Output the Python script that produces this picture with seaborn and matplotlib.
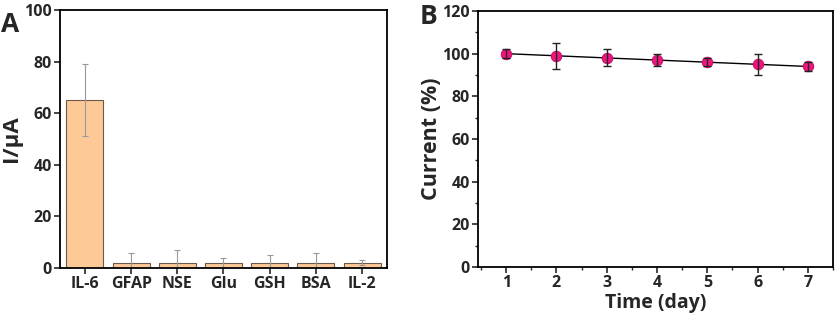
import matplotlib
matplotlib.use("Agg")
import matplotlib.pyplot as plt
from matplotlib.ticker import MultipleLocator
import seaborn as sns
import pandas as pd

# Panel A data: selectivity
proteins = ["IL-6", "GFAP", "NSE", "Glu", "GSH", "BSA", "IL-2"]
current_ua = [65, 2, 2, 2, 2, 2, 2]
current_err = [14, 4, 5, 2, 3, 4, 1]

# Panel B data: stability
days = [1, 2, 3, 4, 5, 6, 7]
current_pct = [100, 99, 98, 97, 96, 95, 94]
pct_err = [2, 6, 4, 3, 2, 5, 2]

sns.set_style("white")
plt.rcParams['font.family'] = ['Open Sans', 'DejaVu Sans']
plt.rcParams['font.weight'] = 'bold'

fig = plt.figure(figsize=(8.37, 3.18), dpi=100)
axA = fig.add_axes([60 / 837, 1 - 268 / 318, 327 / 837, 258 / 318])
axB = fig.add_axes([478 / 837, 1 - 267 / 318, 355 / 837, 256 / 318])

# Panel A
dfA = pd.DataFrame({"protein": proteins, "current": current_ua})
sns.barplot(data=dfA, x="protein", y="current", ax=axA, color="#FDC997",
            edgecolor="#6e5a4a", linewidth=0.8, width=0.8, saturation=1)
axA.errorbar(range(len(proteins)), current_ua, yerr=current_err, fmt="none",
             ecolor="#999999", elinewidth=0.8, capsize=2, capthick=0.8)
axA.set_xlim(-0.54, 6.54)
axA.set_ylim(0, 100)
axA.yaxis.set_major_locator(MultipleLocator(20))
axA.set_xlabel("")
axA.set_ylabel("I/μA", fontsize=16, fontweight="bold")
axA.yaxis.set_label_coords(-0.115, 0.5)
axA.text(-0.18, 0.995, "A", transform=axA.transAxes, fontsize=19,
         fontweight="bold", va="top", ha="left")

# Panel B
dfB = pd.DataFrame({"day": days, "current": current_pct})
sns.lineplot(data=dfB, x="day", y="current", ax=axB, color="black",
             linewidth=1.0, marker="o", markersize=7.5,
             markerfacecolor="#F0157E", markeredgecolor="#C8106A")
axB.errorbar(days, current_pct, yerr=pct_err, fmt="none", ecolor="#222222",
             elinewidth=1.0, capsize=3, capthick=1.0)
axB.set_xlim(0.44, 7.5)
axB.set_ylim(0, 120)
axB.xaxis.set_major_locator(MultipleLocator(1))
axB.xaxis.set_minor_locator(MultipleLocator(0.5))
axB.yaxis.set_major_locator(MultipleLocator(20))
axB.yaxis.set_minor_locator(MultipleLocator(10))
axB.set_xlabel("Time (day)", fontsize=14, fontweight="bold", labelpad=1)
axB.set_ylabel("Current (%)", fontsize=15.5, fontweight="bold")
axB.yaxis.set_label_coords(-0.1, 0.5)
axB.text(-0.165, 1.03, "B", transform=axB.transAxes, fontsize=19,
         fontweight="bold", va="top", ha="left")

for ax in (axA, axB):
    for s in ax.spines.values():
        s.set_visible(True)
        s.set_color("black")
        s.set_linewidth(1.3)
    ax.tick_params(which="major", direction="out", length=4, width=1.2,
                   labelsize=11.5, bottom=True, left=True, pad=2)
    ax.tick_params(which="minor", direction="out", length=2.5, width=1.0,
                   bottom=True, left=True)
    for lbl in ax.get_xticklabels() + ax.get_yticklabels():
        lbl.set_fontweight("bold")

fig.savefig("out.png", dpi=100)
